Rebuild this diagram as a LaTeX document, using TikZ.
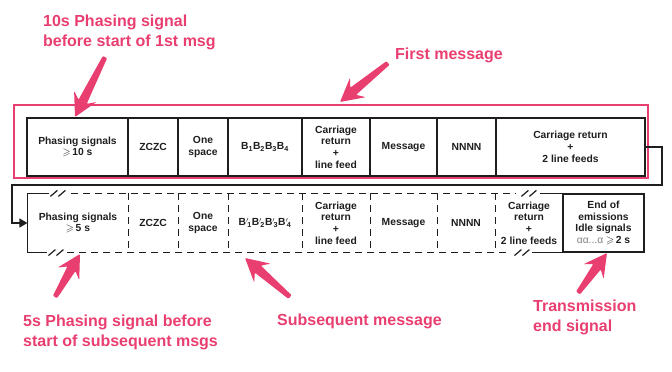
\documentclass[tikz,border=0pt]{standalone}
\usepackage{fontspec}
\setmainfont{Liberation Sans}
\usepackage{amssymb}
\usetikzlibrary{calc,arrows.meta}
\definecolor{pinkc}{RGB}{233,62,112}
\definecolor{inkc}{RGB}{30,30,30}
\tikzset{
 cell/.style={draw=inkc, line width=1.2pt, minimum height=58pt, inner sep=0pt, align=center, font=\fontsize{10.3}{11.7}\selectfont\bfseries, text=inkc},
 dcell/.style={cell, draw=none},
 frame/.style={draw=pinkc, line width=2.6pt, inner sep=0pt},
 lbl/.style={text=pinkc, font=\fontsize{16}{20}\selectfont\bfseries, align=left, inner sep=0pt, anchor=north west},
 dline/.style={draw=inkc, line width=1.2pt, dash pattern=on 7pt off 5pt},
 sline/.style={draw=inkc, line width=1.2pt},
 conn/.style={draw=inkc, line width=1.4pt, -{Triangle[length=8pt,width=9pt]}},
}
\newcommand{\fatarrow}[2]{%
  \coordinate (#1n) at ($(#2)!17pt!(#1)$);
  \coordinate (#1w) at ($(#2)!23pt!(#1)$);
  \fill[pinkc, rounded corners=1pt] ($(#1)!2.4pt!90:(#2)$) -- ($(#1n)!4.6pt!90:(#2)$) -- ($(#1w)!12.5pt!90:(#2)$) -- (#2) -- ($(#1w)!12.5pt!-90:(#2)$) -- ($(#1n)!4.6pt!-90:(#2)$) -- ($(#1)!2.4pt!-90:(#2)$) -- cycle;
}
\begin{document}
\begin{tikzpicture}[x=1pt,y=-1pt]
\useasboundingbox (0,0) rectangle (672,372);
% top row
\node[cell, minimum width=101pt] (t1) at (77.5,147) {Phasing signals\\$\geqslant$\,10 s};
\node[cell, minimum width=50pt] (t2) at (153,147) {ZCZC};
\node[cell, minimum width=50pt] (t3) at (203,147) {One\\space};
\node[cell, minimum width=74pt] (t4) at (265,147) {B\textsubscript{1}B\textsubscript{2}B\textsubscript{3}B\textsubscript{4}};
\node[cell, minimum width=68pt] (t5) at (336,147) {Carriage\\return\\+\\line feed};
\node[cell, minimum width=67pt] (t6) at (403.5,147) {Message};
\node[cell, minimum width=59pt] (t7) at (466.5,147) {NNNN};
\node[cell, minimum width=149pt] (t8) at (570.5,147) {Carriage return\\+\\2 line feeds};
% pink frame
\node[frame, minimum width=634pt, minimum height=73pt] (first) at (331,141.5) {};
% bottom row
\node[dcell, minimum width=100pt] (b1) at (78,223) {Phasing signals\\$\geqslant$\,5 s};
\node[dcell, minimum width=50pt] (b2) at (153,223) {ZCZC};
\node[dcell, minimum width=50pt] (b3) at (203,223) {One\\space};
\node[dcell, minimum width=74pt] (b4) at (265,223) {B$'$\kern-0.15em\textsubscript{1}B$'$\kern-0.15em\textsubscript{2}B$'$\kern-0.15em\textsubscript{3}B$'$\kern-0.15em\textsubscript{4}};
\node[dcell, minimum width=68pt] (b5) at (336,223) {Carriage\\return\\+\\line feed};
\node[dcell, minimum width=67pt] (b6) at (403.5,223) {Message};
\node[dcell, minimum width=58pt] (b7) at (466,223) {NNNN};
\node[dcell, minimum width=68pt] (b8) at (529,223) {Carriage\\return\\+\\2 line feeds};
\node[cell, minimum width=81pt] (b9) at (603.5,223) {End of\\emissions\\Idle signals\\{\mdseries\color{gray}αα...α} $\geqslant$\,2 s};
% bottom row outline
\draw[sline] (b1.north west) -- (b1.south west);
\draw[sline] (b1.north west) -- ++(22,0);
\draw[sline] (b1.south west) -- ++(20,0);
\draw[sline] ($(b1.north west)+(23,3)$) -- ++(7,-6);
\draw[sline] ($(b1.north west)+(31,3)$) -- ++(7,-6);
\draw[sline] ($(b1.south west)+(21,3)$) -- ++(7,-6);
\draw[sline] ($(b1.south west)+(29,3)$) -- ++(7,-6);
\draw[dline] ($(b1.north west)+(44,0)$) -- ($(b8.north west)+(22,0)$);
\draw[dline] ($(b1.south west)+(40,0)$) -- ($(b8.south west)+(15,0)$);
\draw[sline] ($(b8.north west)+(27,3)$) -- ++(7,-6);
\draw[sline] ($(b8.north west)+(35,3)$) -- ++(7,-6);
\draw[sline] ($(b8.south west)+(20,3)$) -- ++(7,-6);
\draw[sline] ($(b8.south west)+(28,3)$) -- ++(7,-6);
\draw[sline] ($(b8.north west)+(46,0)$) -- (b9.north west);
\draw[sline] ($(b8.south west)+(38,0)$) -- (b9.south west);
\foreach \c in {b1,b2,b3,b4,b5,b6,b7}{\draw[dline] (\c.north east) -- (\c.south east);}
% connector
\coordinate (c1) at (662,185);
\coordinate (c2) at (12,185);
\draw[conn] (t8.east) -| (c1) -- (c2) |- (b1.west);
% labels
\node[lbl] (l1) at (43,15) {10s Phasing signal\\before start of 1st msg};
\node[lbl] (l2) at (395,48) {First message};
\node[lbl] (l3) at (23,315) {5s Phasing signal before\\start of subsequent msgs};
\node[lbl] (l4) at (277,314) {Subsequent message};
\node[lbl] (l5) at (533,300) {Transmission\\end signal};
% pink arrows
\coordinate (a1t) at (105,57); \coordinate (a1h) at (75,117);
\coordinate (a2t) at (388,63); \coordinate (a2h) at (340,102);
\coordinate (a3t) at (55,297); \coordinate (a3h) at (80,254);
\coordinate (a4t) at (290,297); \coordinate (a4h) at (245,258);
\coordinate (a5t) at (578,293); \coordinate (a5h) at (607,253);
\fatarrow{a1t}{a1h}
\fatarrow{a2t}{a2h}
\fatarrow{a3t}{a3h}
\fatarrow{a4t}{a4h}
\fatarrow{a5t}{a5h}
\end{tikzpicture}
\end{document}
